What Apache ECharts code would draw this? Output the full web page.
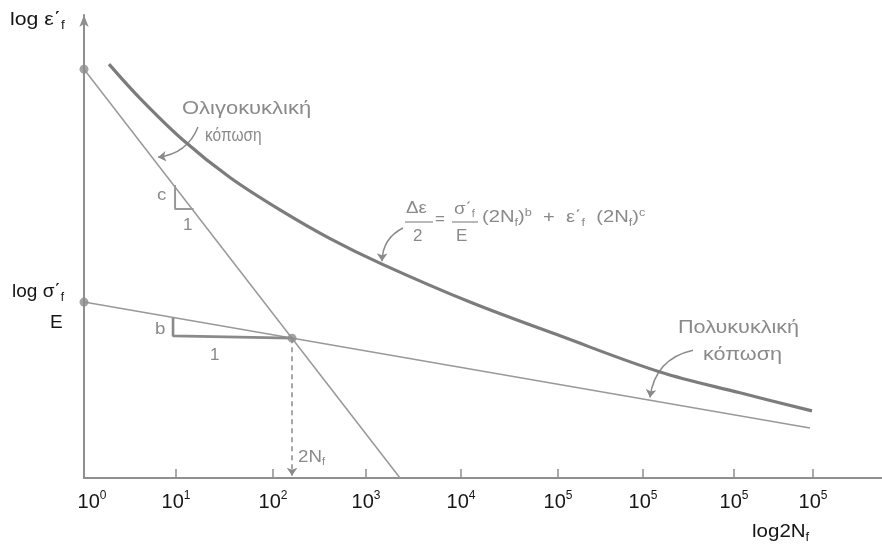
<!DOCTYPE html>
<html>
<head>
<meta charset="utf-8">
<script src="https://cdn.jsdelivr.net/npm/echarts@6/dist/echarts.min.js"></script>
<style>html,body{margin:0;padding:0;background:#fff}#c{width:882px;height:547px}</style>
</head>
<body>
<div id="c"></div>
<script>
// ---- data (x: decades of 2Nf, y: log strain, arbitrary units) ----
var tickPositions = [0, 1.01, 2.074, 3.095, 4.137, 5.202, 6.135, 7.133, 8.0];
var tickExponents = ['0', '1', '2', '3', '4', '5', '5', '5', '5'];
var totalCurve = [[0.274, 8.94], [0.615, 8.20], [1.086, 7.30], [1.602, 6.49], [2.151, 5.79], [2.700, 5.17], [3.270, 4.62], [4.236, 3.80], [5.224, 3.07], [6.321, 2.29], [7.199, 1.84], [7.989, 1.45]];
var plasticLine = [[0, 8.83], [3.468, 0]];
var elasticLine = [[0, 3.80], [7.967, 1.08]];
var slopeC = [[0.999, 6.33], [0.999, 5.81], [1.202, 5.81]];
var slopeB = [[0.977, 3.46], [0.977, 3.07], [2.283, 3.02]];
var keyPoints = [[0, 8.83], [0, 3.80], [2.283, 3.02]];
var transition = [2.283, 3.02];
var pointerArrows = [
  {from: [1.251, 7.58], to: [0.812, 6.93], bend: 0.3},
  {from: [3.50, 5.40], to: [3.270, 4.68], bend: -0.3},
  {from: [6.683, 2.76], to: [6.211, 1.74], bend: -0.35}
];

var GRAY = '#8f8f8f';
var TXT = '#8a8a8a';
var INK = '#151515';
var FONT = '"Liberation Sans", Arial, Helvetica, sans-serif';

var chart = echarts.init(document.getElementById('c'), null, {renderer: 'canvas'});

function txt(x, y, text, size, color, sx, rich) {
  var st = {text: text, fontSize: size, fontFamily: FONT, fill: color, align: 'left', verticalAlign: 'top'};
  if (rich) { st.rich = rich; }
  return {type: 'text', x: x, y: y, scaleX: sx || 1, style: st};
}
function subRich(size, sub, color, lh) {
  return {
    a: {fontSize: size, fontFamily: FONT, fill: color, lineHeight: lh},
    s: {fontSize: sub, fontFamily: FONT, fill: color, lineHeight: sub, verticalAlign: 'bottom'},
    p: {fontSize: sub, fontFamily: FONT, fill: color, lineHeight: sub, verticalAlign: 'top'}
  };
}

var option = {
  backgroundColor: '#fff',
  animation: false,
  grid: {left: 84, right: 0, top: 15, bottom: 69, containLabel: false},
  xAxis: {
    type: 'value', min: 0, max: 8.757,
    axisLine: {lineStyle: {color: GRAY, width: 2}},
    axisTick: {show: true, inside: true, length: 9, customValues: tickPositions.slice(1), lineStyle: {color: GRAY, width: 1.5}},
    splitLine: {show: false},
    axisLabel: {
      customValues: tickPositions,
      margin: 12,
      formatter: function (v) {
        var i = tickPositions.indexOf(v);
        if (i < 0) { return ''; }
        return (i === 0 ? '{f|10}' : '{n|10}') + '{e|' + tickExponents[i] + '}';
      },
      rich: {
        n: {fontSize: 20, fontFamily: FONT, color: INK, lineHeight: 24},
        f: {fontSize: 20, fontFamily: FONT, color: INK, lineHeight: 24, padding: [0, 0, 0, 16]},
        e: {fontSize: 12, fontFamily: FONT, color: INK, lineHeight: 14, verticalAlign: 'top'}
      }
    }
  },
  yAxis: {
    type: 'value', min: 0, max: 10,
    axisLine: {show: true, symbol: ['none', 'arrow'], symbolSize: [7, 12], lineStyle: {color: GRAY, width: 2}},
    axisTick: {show: false}, axisLabel: {show: false}, splitLine: {show: false}
  },
  series: [
    {type: 'line', name: 'total', data: totalCurve, smooth: 0.35, showSymbol: false, lineStyle: {color: '#7c7c7c', width: 3.2}, clip: false},
    {type: 'line', name: 'plastic', data: plasticLine, showSymbol: false, lineStyle: {color: '#999', width: 1.5}, clip: false},
    {type: 'line', name: 'elastic', data: elasticLine, showSymbol: false, lineStyle: {color: '#999', width: 1.5}, clip: false},
    {type: 'line', name: 'slopeC', data: slopeC, showSymbol: false, lineStyle: {color: '#999', width: 2}, clip: false},
    {type: 'line', name: 'slopeB', data: slopeB, showSymbol: false, lineStyle: {color: '#8a8a8a', width: 2.6}, clip: false},
    {type: 'scatter', name: 'points', data: keyPoints, symbolSize: 9, itemStyle: {color: '#8c8c8c'}, clip: false, z: 5},
    {
      type: 'lines', coordinateSystem: 'cartesian2d', name: 'pointers', silent: true,
      symbol: ['none', 'arrow'], symbolSize: 8,
      lineStyle: {color: '#8a8a8a', width: 1.5, opacity: 1},
      data: pointerArrows.map(function (a) {
        return {coords: [a.from, a.to], lineStyle: {curveness: a.bend}};
      }).concat([{coords: [transition, [transition[0], 0.05]], lineStyle: {curveness: 0, type: [5, 4]}}])
    }
  ],
  graphic: [
    txt(10, 8, '{a|log ε΄}{s|f}', 19, INK, 1.12, subRich(19, 12, INK, 24)),
    txt(12, 280, '{a|log σ΄}{s|f}', 19, INK, 1, subRich(19, 12, INK, 24)),
    txt(50, 313, 'E', 19, INK, 1),
    txt(752, 520, '{a|log2N}{s|f}', 19, INK, 1.08, subRich(19, 12, INK, 24)),
    txt(182, 100, 'Ολιγοκυκλική', 18, TXT, 1.22),
    txt(205, 127, 'κόπωση', 18, TXT, 0.86),
    txt(678, 319, 'Πολυκυκλική', 18, TXT, 1.2),
    txt(703, 346, 'κόπωση', 18, TXT, 1.2),
    txt(157, 187, 'c', 17, TXT, 1.1),
    txt(183, 217, '1', 17, TXT, 1),
    txt(155, 321, 'b', 17, TXT, 1.1),
    txt(210, 347, '1', 17, TXT, 1),
    txt(298, 447, '{a|2N}{s|f}', 17, TXT, 1.1, subRich(17, 10, TXT, 20)),
    // equation
    txt(406, 200, 'Δε', 17, TXT, 1.1),
    txt(413, 228, '2', 17, TXT, 1),
    {type: 'line', shape: {x1: 405, y1: 222, x2: 433, y2: 222}, style: {stroke: TXT, lineWidth: 1.2}},
    txt(435, 211, '=', 17, TXT, 1),
    txt(454, 199, '{a|σ΄}{s|f}', 17, TXT, 1.1, subRich(17, 10, TXT, 20)),
    txt(456, 228, 'E', 17, TXT, 1),
    {type: 'line', shape: {x1: 452, y1: 222, x2: 478, y2: 222}, style: {stroke: TXT, lineWidth: 1.2}},
    txt(482, 208, '{a|(2N}{s|f}{a|)}{p|b}{a|  +  ε΄}{s|f}{a|  (2N}{s|f}{a|)}{p|c}', 16, TXT, 1.26, subRich(16, 10, TXT, 20))
  ]
};
chart.setOption(option);
</script>
</body>
</html>
